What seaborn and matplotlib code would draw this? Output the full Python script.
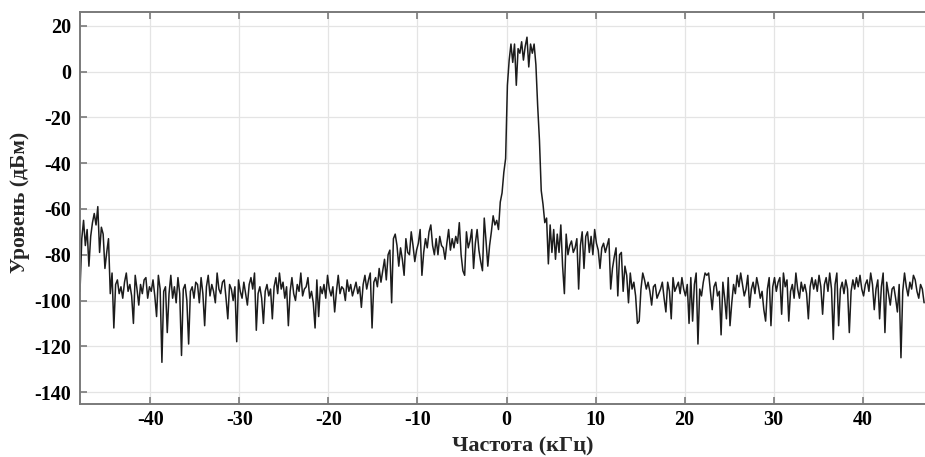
import numpy as np
import pandas as pd
import matplotlib
matplotlib.use("Agg")
import matplotlib.pyplot as plt
import seaborn as sns

# Frequency grid of the spectrum (kHz): first bin and bin width
F_START = -47.9
F_STEP = 0.2

# Measured level per bin (dBm)
level = [
    -96, -73, -65, -76, -69, -85, -72, -66, -62, -67,
    -59, -79, -68, -71, -86, -79, -73, -97, -88, -112,
    -93, -91, -97, -94, -99, -92, -88, -96, -93, -98,
    -110, -89, -95, -102, -93, -97, -91, -90, -99, -94,
    -96, -91, -98, -107, -89, -95, -127, -96, -94, -114,
    -97, -89, -99, -94, -101, -90, -97, -124, -95, -93,
    -100, -119, -96, -94, -99, -92, -93, -101, -90, -97,
    -111, -94, -89, -98, -93, -96, -101, -88, -95, -97,
    -92, -91, -99, -108, -93, -95, -100, -94, -118, -91,
    -96, -99, -92, -97, -102, -93, -90, -95, -88, -113,
    -97, -94, -99, -110, -96, -93, -98, -95, -108, -94,
    -90, -97, -88, -95, -92, -99, -94, -111, -96, -90,
    -97, -100, -93, -96, -88, -98, -95, -94, -90, -99,
    -96, -101, -112, -91, -107, -94, -97, -93, -99, -89,
    -95, -98, -94, -105, -96, -89, -97, -94, -95, -100,
    -91, -96, -93, -98, -95, -92, -97, -94, -103, -93,
    -89, -95, -91, -88, -112, -92, -90, -94, -86, -92,
    -87, -82, -91, -80, -78, -101, -73, -71, -76, -85,
    -77, -82, -89, -73, -79, -80, -70, -76, -83, -78,
    -75, -69, -89, -79, -73, -77, -70, -67, -76, -80,
    -73, -80, -72, -76, -77, -82, -75, -69, -78, -73,
    -77, -72, -75, -66, -80, -87, -89, -70, -77, -74,
    -69, -86, -75, -69, -78, -83, -87, -64, -74, -85,
    -76, -70, -63, -67, -65, -69, -57, -53, -44, -38,
    -6, 5, 12, 4, 12, -6, 10, 8, 13, 5,
    11, 15, 2, 12, 8, 12, 3, -15, -30, -52,
    -58, -66, -64, -84, -67, -79, -69, -82, -71, -79,
    -67, -85, -97, -71, -80, -76, -74, -79, -77, -73,
    -95, -76, -70, -86, -72, -70, -79, -72, -80, -69,
    -75, -78, -86, -77, -75, -79, -76, -73, -95, -86,
    -81, -77, -98, -80, -79, -96, -85, -89, -101, -88,
    -95, -92, -98, -110, -109, -95, -88, -91, -95, -92,
    -96, -102, -94, -93, -99, -97, -95, -92, -99, -105,
    -92, -96, -108, -90, -96, -94, -92, -97, -90, -95,
    -98, -93, -110, -90, -109, -93, -88, -119, -95, -98,
    -92, -88, -89, -88, -96, -104, -94, -92, -98, -96,
    -115, -92, -99, -108, -90, -111, -101, -93, -97, -89,
    -94, -88, -93, -98, -95, -89, -103, -95, -92, -97,
    -90, -94, -99, -96, -104, -109, -95, -90, -111, -94,
    -90, -96, -92, -90, -106, -88, -94, -91, -109, -96,
    -93, -99, -88, -95, -99, -92, -96, -93, -97, -108,
    -94, -90, -95, -91, -96, -89, -94, -106, -93, -90,
    -96, -88, -95, -117, -93, -88, -111, -95, -92, -97,
    -91, -95, -114, -96, -91, -95, -90, -94, -89, -95,
    -98, -93, -91, -96, -88, -93, -104, -95, -91, -108,
    -94, -88, -114, -92, -97, -102, -95, -94, -99, -105,
    -93, -125, -96, -88, -94, -98, -92, -95, -89, -91,
    -96, -99, -93, -95, -101,
]

x_ticks = [-40, -30, -20, -10, 0, 10, 20, 30, 40]
y_ticks = [-140, -120, -100, -80, -60, -40, -20, 0, 20]
x_label = "Частота (кГц)"
y_label = "Уровень (дБм)"

freq = F_START + F_STEP * np.arange(len(level))
df = pd.DataFrame({"freq": freq, "level": level})

sns.set_theme(style="whitegrid")
plt.rcParams["font.family"] = ["Liberation Serif", "DejaVu Serif"]
plt.rcParams["font.weight"] = "bold"

W, H = 925, 457
fig = plt.figure(figsize=(W / 100, H / 100), dpi=100)
ax = fig.add_axes([80 / W, (H - 404) / H, (W - 80) / W, (404 - 12) / H])

sns.lineplot(data=df, x="freq", y="level", ax=ax, color="#1c1c1c",
             linewidth=1.1, sort=False, estimator=None)

ax.set_xlim(-47.9, 47.0)
ax.set_ylim(-145.2, 26)
ax.set_xticks(x_ticks)
ax.set_yticks(y_ticks)
ax.set_xticklabels([str(v) for v in x_ticks])
ax.set_yticklabels([str(v) for v in y_ticks])

ax.set_facecolor("white")
ax.grid(True, color="#e4e4e4", linewidth=0.9)
for side in ("left", "top", "bottom"):
    ax.spines[side].set_visible(True)
    ax.spines[side].set_color("#7a7a7a")
    ax.spines[side].set_linewidth(1.4)
ax.spines["right"].set_visible(False)

ax.tick_params(axis="both", which="major", direction="in", length=5,
               width=1.2, color="#7a7a7a", labelsize=14.5, labelcolor="black")
ax.tick_params(axis="x", top=True, bottom=True, pad=4.5)
ax.tick_params(axis="y", left=True, right=False, pad=6.5)
for lab in ax.get_xticklabels() + ax.get_yticklabels():
    lab.set_fontweight("bold")

ax.set_xlabel(x_label, fontsize=16, fontweight="bold")
ax.set_ylabel(y_label, fontsize=15.5, fontweight="bold")
ax.xaxis.set_label_coords((523 - 80) / (W - 80), -(451 - 404) / (404 - 12),
                          transform=ax.transAxes)
ax.xaxis.label.set_va("baseline")
ax.yaxis.set_label_coords(-(80 - 10) / (W - 80), (404 - 202) / (404 - 12),
                          transform=ax.transAxes)
ax.yaxis.label.set_va("top")

fig.savefig("out.png", dpi=100, facecolor="white")
